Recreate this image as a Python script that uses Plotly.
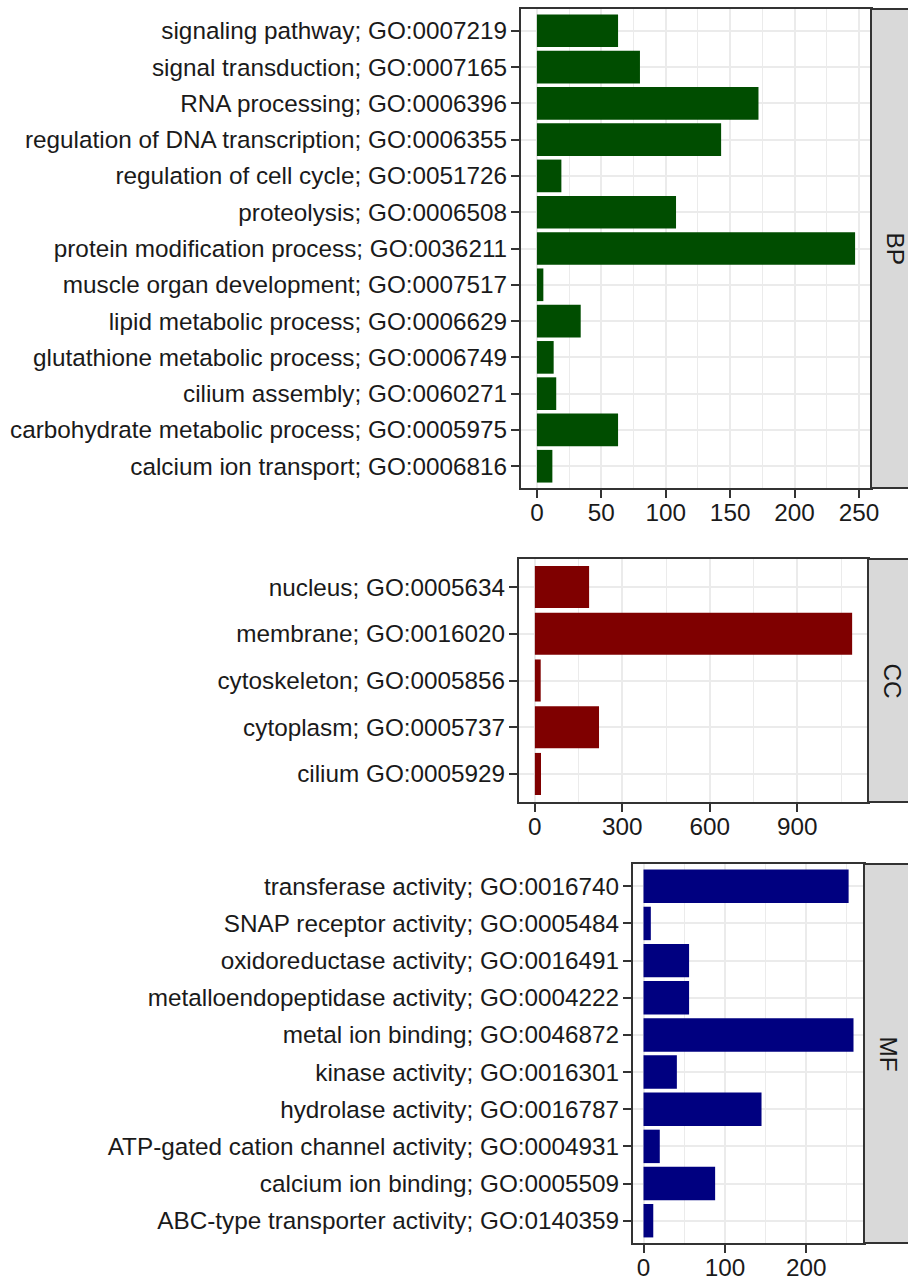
import plotly.graph_objects as go

# ---- data (top-to-bottom order as shown) ----
bp_terms = [
    "signaling pathway; GO:0007219",
    "signal transduction; GO:0007165",
    "RNA processing; GO:0006396",
    "regulation of DNA transcription; GO:0006355",
    "regulation of cell cycle; GO:0051726",
    "proteolysis; GO:0006508",
    "protein modification process; GO:0036211",
    "muscle organ development; GO:0007517",
    "lipid metabolic process; GO:0006629",
    "glutathione metabolic process; GO:0006749",
    "cilium assembly; GO:0060271",
    "carbohydrate metabolic process; GO:0005975",
    "calcium ion transport; GO:0006816",
]
bp_counts = [63, 80, 172, 143, 19, 108, 247, 5, 34, 13, 15, 63, 12]

cc_terms = [
    "nucleus; GO:0005634",
    "membrane; GO:0016020",
    "cytoskeleton; GO:0005856",
    "cytoplasm; GO:0005737",
    "cilium GO:0005929",
]
cc_counts = [186, 1088, 20, 220, 21]

mf_terms = [
    "transferase activity; GO:0016740",
    "SNAP receptor activity; GO:0005484",
    "oxidoreductase activity; GO:0016491",
    "metalloendopeptidase activity; GO:0004222",
    "metal ion binding; GO:0046872",
    "kinase activity; GO:0016301",
    "hydrolase activity; GO:0016787",
    "ATP-gated cation channel activity; GO:0004931",
    "calcium ion binding; GO:0005509",
    "ABC-type transporter activity; GO:0140359",
]
mf_counts = [252, 9, 56, 56, 258, 41, 145, 20, 88, 12]

facet_labels = ["BP", "CC", "MF"]
facet_colors = ["#004d00", "#7f0000", "#000080"]
x_dticks = [50, 300, 100]

W, H = 908, 1277
# panel pixel boxes (left, right, top, bottom)
boxes = [(521, 871, 9, 488), (519, 868, 559, 802), (633, 864, 864, 1243)]

FONT = "Liberation Sans, Arial, sans-serif"
FS = 24.3
GRID = "#EBEBEB"
DARK = "#333333"
TXT = "#1a1a1a"

fig = go.Figure()
layout = dict(
    width=W, height=H,
    margin=dict(l=0, r=0, t=0, b=0),
    paper_bgcolor="white", plot_bgcolor="white",
    showlegend=False, bargap=0.1,
    font=dict(family=FONT, size=FS, color=TXT),
)
shapes = []
annotations = []

datasets = [(bp_terms, bp_counts), (cc_terms, cc_counts), (mf_terms, mf_counts)]
for i, ((terms, counts), lab, col, dt, box) in enumerate(
        zip(datasets, facet_labels, facet_colors, x_dticks, boxes)):
    sfx = "" if i == 0 else str(i + 1)
    xa, ya = "x" + sfx, "y" + sfx
    fig.add_trace(go.Bar(
        x=counts, y=terms, orientation="h", xaxis=xa, yaxis=ya,
        marker=dict(color=col, line=dict(width=0)), width=0.9,
        hoverinfo="x+y",
    ))
    l, r, t, b = box
    xd = [l / W, r / W]
    yd = [1 - b / H, 1 - t / H]
    mx = max(counts)
    n = len(terms)
    layout["xaxis" + sfx] = dict(
        domain=xd, anchor=ya, range=[-0.05 * mx, 1.05 * mx],
        dtick=dt, tick0=0, showgrid=True, gridcolor=GRID, gridwidth=2,
        minor=dict(dtick=dt / 2, tick0=0, showgrid=True, gridcolor=GRID, gridwidth=1, ticklen=0),
        ticks="outside", ticklen=8, tickwidth=2, tickcolor=DARK,
        ticklabelstandoff=-6,
        showline=True, mirror=True, linecolor=DARK, linewidth=2,
        zeroline=False, automargin=False,
        tickfont=dict(family=FONT, size=FS, color=TXT),
        fixedrange=True,
    )
    layout["yaxis" + sfx] = dict(
        domain=yd, anchor=xa, type="category",
        categoryorder="array", categoryarray=terms,
        range=[n - 1 + 0.6, -0.6],
        showgrid=True, gridcolor=GRID, gridwidth=2,
        ticks="outside", ticklen=8, tickwidth=2, tickcolor=DARK,
        ticklabelstandoff=-1,
        showline=True, mirror=True, linecolor=DARK, linewidth=2,
        zeroline=False, automargin=False,
        tickfont=dict(family=FONT, size=FS, color=TXT),
        fixedrange=True,
    )
    # facet strip on right
    shapes.append(dict(type="rect", xref="paper", yref="paper",
                       x0=r / W, x1=(r + 60) / W, y0=yd[0], y1=yd[1],
                       fillcolor="#D9D9D9", line=dict(color=DARK, width=2), layer="above"))
    annotations.append(dict(xref="paper", yref="paper",
                            x=(r + 24) / W, y=(yd[0] + yd[1]) / 2,
                            text=lab, showarrow=False, textangle=90,
                            font=dict(family=FONT, size=FS, color=TXT),
                            xanchor="center", yanchor="middle"))

layout["shapes"] = shapes
layout["annotations"] = annotations
fig.update_layout(**layout)
fig.write_html("out.html", config={"displayModeBar": False},
               post_script="document.body.style.margin='0';document.body.style.overflow='hidden';")
